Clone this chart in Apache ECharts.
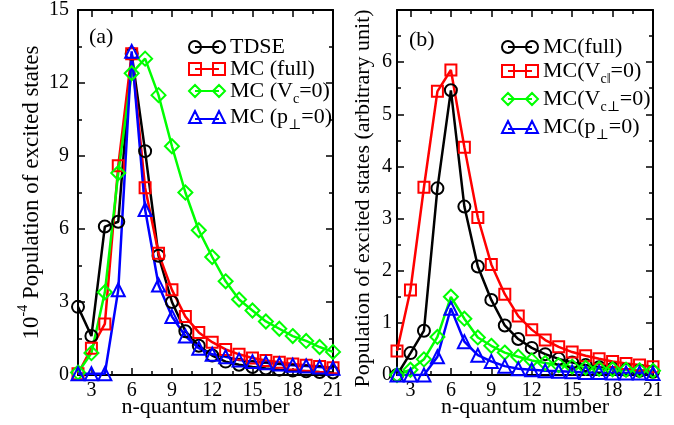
<!DOCTYPE html>
<html>
<head>
<meta charset="utf-8">
<script src="https://cdn.jsdelivr.net/npm/echarts@6/dist/echarts.min.js"></script>
<style>
    html, body { margin: 0; padding: 0; background: #fff; }
    #main { width: 674px; height: 425px; }
</style>
</head>
<body>
<div id="main"></div>
<script>
// n 量子数
var nQuantum = [2, 3, 4, 5, 6, 7, 8, 9, 10, 11, 12, 13, 14, 15, 16, 17, 18, 19, 20, 21];

// (a) 10^-4 population
var aTdse   = [2.8, 1.6, 6.1, 6.3, 13.2, 9.2, 4.9, 3.0, 1.8, 1.2, 0.8, 0.55, 0.42, 0.33, 0.27, 0.22, 0.18, 0.15, 0.12, 0.1];
var aMcFull = [0.05, 1.1, 2.1, 8.6, 13.2, 7.7, 5.0, 3.5, 2.4, 1.75, 1.35, 1.05, 0.85, 0.7, 0.6, 0.52, 0.45, 0.4, 0.35, 0.3];
var aMcVc0  = [0.1, 0.9, 3.4, 8.3, 12.4, 13.0, 11.5, 9.4, 7.5, 5.95, 4.85, 3.85, 3.1, 2.65, 2.2, 1.9, 1.6, 1.4, 1.15, 0.95];
var aMcP0   = [0.05, 0.05, 0.05, 3.5, 13.3, 6.8, 3.7, 2.4, 1.6, 1.1, 0.85, 0.75, 0.62, 0.55, 0.5, 0.45, 0.4, 0.37, 0.33, 0.28];

// (b) arbitrary unit
var bMcFull   = [0.0, 0.42, 0.85, 3.58, 5.46, 3.23, 2.08, 1.44, 0.95, 0.69, 0.52, 0.4, 0.31, 0.24, 0.19, 0.15, 0.12, 0.1, 0.08, 0.06];
var bMcVcPar  = [0.46, 1.63, 3.6, 5.44, 5.85, 4.37, 3.02, 2.12, 1.55, 1.13, 0.87, 0.67, 0.54, 0.44, 0.37, 0.31, 0.26, 0.22, 0.19, 0.16];
var bMcVcPerp = [0.0, 0.1, 0.3, 0.73, 1.5, 1.08, 0.72, 0.56, 0.43, 0.35, 0.28, 0.23, 0.19, 0.16, 0.14, 0.12, 0.11, 0.1, 0.09, 0.08];
var bMcP0     = [0.0, 0.0, 0.0, 0.35, 1.28, 0.64, 0.38, 0.26, 0.17, 0.12, 0.1, 0.08, 0.07, 0.06, 0.05, 0.05, 0.04, 0.04, 0.04, 0.03];

// 刻度
var xTicks = [3, 6, 9, 12, 15, 18, 21];
var xMinorTicks = [4.5, 7.5, 10.5, 13.5, 16.5, 19.5];
var bYLabels = [0, 1, 2, 3, 4, 5, 6];

var FONT = "'Liberation Serif', 'DejaVu Serif', serif";
var GREEN = '#00ff00';

// 图例图标：两个空心符号加中间连线
var ICONS = {
    circle: 'path://M0,6A6,6 0 1,1 12,6A6,6 0 1,1 0,6ZM6,6L30,6M24,6A6,6 0 1,1 36,6A6,6 0 1,1 24,6Z',
    rect: 'path://M0,0L12,0L12,12L0,12ZM6,6L30,6M24,0L36,0L36,12L24,12Z',
    diamond: 'path://M0,6L6,0L12,6L6,12ZM6,6L30,6M24,6L30,0L36,6L30,12Z',
    triangle: 'path://M0,12L6,0L12,12ZM6,8L30,8M24,12L30,0L36,12Z'
};

var legendText = {
    'TDSE': '{a|TDSE}',
    'MC (full)': '{a|MC (full)}',
    'MC (Vc=0)': '{a|MC (V}{s|c}{a|=0)}',
    'MC (p⊥=0)': '{a|MC (p}{s|⊥}{a|=0)}',
    'MC(full)': '{a|MC(full)}',
    'MC(Vc‖=0)': '{a|MC(V}{s|c‖}{a|=0)}',
    'MC(Vc⊥=0)': '{a|MC(V}{s|c⊥}{a|=0)}',
    'MC(p⊥=0)': '{a|MC(p}{s|⊥}{a|=0)}'
};

function pairs(arr) {
    return nQuantum.map(function (n, i) { return [n, arr[i]]; });
}

function makeSeries(name, arr, color, symbol, size, gridIdx) {
    return {
        name: name,
        type: 'line',
        xAxisIndex: gridIdx * 4,
        yAxisIndex: gridIdx * 2,
        data: pairs(arr),
        symbol: symbol,
        symbolSize: size,
        showAllSymbol: true,
        lineStyle: { color: color, width: 2.5 },
        itemStyle: { color: 'rgba(0,0,0,0)', borderColor: color, borderWidth: 2 },
        emphasis: { disabled: true },
        animation: false
    };
}

function legendItem(name, color, symbol) {
    return {
        name: name,
        icon: ICONS[symbol],
        itemStyle: { color: 'rgba(0,0,0,0)', borderColor: color, borderWidth: 2 }
    };
}

var richText = {
    a: { fontFamily: FONT, fontSize: 22, color: '#000', lineHeight: 22, verticalAlign: 'top' },
    s: { fontFamily: FONT, fontSize: 14, color: '#000', lineHeight: 14, padding: [12, 0, 0, 0], verticalAlign: 'top' }
};

// x 轴：底部主刻度、底部次刻度、顶部主刻度、顶部次刻度
function xAxes(gridIdx) {
    var base = {
        type: 'value', gridIndex: gridIdx, min: 2, max: 21,
        splitLine: { show: false }
    };
    return [
        Object.assign({}, base, {
            position: 'bottom',
            name: 'n-quantum number',
            nameLocation: 'middle',
            nameGap: 21,
            nameMoveOverlap: false,
            nameTextStyle: { fontFamily: FONT, fontSize: 22, color: '#000' },
            axisLine: { show: true, onZero: false, lineStyle: { color: '#000', width: 2 } },
            axisTick: { show: true, inside: true, length: 7, customValues: xTicks, lineStyle: { color: '#000', width: 1.5 } },
            axisLabel: { show: true, margin: 6, customValues: xTicks, fontFamily: FONT, fontSize: 20, color: '#000' }
        }),
        Object.assign({}, base, {
            position: 'bottom',
            axisLine: { show: false, onZero: false },
            axisTick: { show: true, inside: true, length: 4, customValues: xMinorTicks, lineStyle: { color: '#000', width: 1.5 } },
            axisLabel: { show: false }
        }),
        Object.assign({}, base, {
            position: 'top',
            axisLine: { show: true, onZero: false, lineStyle: { color: '#000', width: 2 } },
            axisTick: { show: true, inside: true, length: 7, customValues: xTicks, lineStyle: { color: '#000', width: 1.5 } },
            axisLabel: { show: false }
        }),
        Object.assign({}, base, {
            position: 'top',
            axisLine: { show: false, onZero: false },
            axisTick: { show: true, inside: true, length: 4, customValues: xMinorTicks, lineStyle: { color: '#000', width: 1.5 } },
            axisLabel: { show: false }
        })
    ];
}

function yAxes(gridIdx, max, interval, name, nameGap, labelMargin, labelValues, nameRich) {
    var tick = { show: true, inside: true, length: 7, lineStyle: { color: '#000', width: 1.5 } };
    var minor = { show: true, splitNumber: 2, length: 4, lineStyle: { color: '#000', width: 1.5 } };
    var label = { show: true, margin: labelMargin, fontFamily: FONT, fontSize: 20, color: '#000' };
    if (labelValues) label.customValues = labelValues;
    return [
        {
            type: 'value', gridIndex: gridIdx, position: 'left', min: 0, max: max, interval: interval,
            name: name, nameLocation: 'middle', nameGap: nameGap, nameMoveOverlap: false,
            nameTextStyle: { fontFamily: FONT, fontSize: 23, color: '#000', rich: nameRich },
            axisLine: { show: true, onZero: false, lineStyle: { color: '#000', width: 2 } },
            axisTick: tick, minorTick: minor, axisLabel: label,
            splitLine: { show: false }
        },
        {
            type: 'value', gridIndex: gridIdx, position: 'right', min: 0, max: max, interval: interval,
            axisLine: { show: true, onZero: false, lineStyle: { color: '#000', width: 2 } },
            axisTick: tick, minorTick: minor, axisLabel: { show: false },
            splitLine: { show: false }
        }
    ];
}

var leftNameRich = {
    b: { fontFamily: FONT, fontSize: 23, color: '#000', lineHeight: 24, padding: [4, 0, 0, 0], verticalAlign: 'top' },
    p: { fontFamily: FONT, fontSize: 14, color: '#000', lineHeight: 14, verticalAlign: 'top' }
};
var rightNameRich = {
    b: { fontFamily: FONT, fontSize: 22, color: '#000', lineHeight: 24, padding: [4, 12, 0, 0], verticalAlign: 'top' }
};

var myChart = echarts.init(document.getElementById('main'), null, { renderer: 'canvas' });

var option = {
    backgroundColor: '#fff',
    animation: false,
    grid: [
        { left: 78, top: 10, width: 255, height: 365, containLabel: false, outerBoundsMode: 'none' },
        { left: 397, top: 10, width: 256, height: 365, containLabel: false, outerBoundsMode: 'none' }
    ],
    xAxis: xAxes(0).concat(xAxes(1)),
    yAxis: yAxes(0, 15, 3, '{b|10}{p|-4}{b| Population of excited states}', 38, 9, null, leftNameRich)
        .concat(yAxes(1, 7, 1, '{b|Population of excited states (arbitrary unit)}', 25, 5, bYLabels, rightNameRich)),
    legend: [
        {
            orient: 'vertical', left: 183, top: 31, itemWidth: 36, itemHeight: 12, itemGap: 0,
            selectedMode: false,
            formatter: function (name) { return legendText[name]; },
            textStyle: { rich: richText },
            data: [
                legendItem('TDSE', '#000', 'circle'),
                legendItem('MC (full)', '#ff0000', 'rect'),
                legendItem('MC (Vc=0)', GREEN, 'diamond'),
                legendItem('MC (p⊥=0)', '#0000ff', 'triangle')
            ]
        },
        {
            orient: 'vertical', left: 496, top: 31, itemWidth: 36, itemHeight: 12, itemGap: 2,
            selectedMode: false,
            formatter: function (name) { return legendText[name]; },
            textStyle: { rich: richText },
            data: [
                legendItem('MC(full)', '#000', 'circle'),
                legendItem('MC(Vc‖=0)', '#ff0000', 'rect'),
                legendItem('MC(Vc⊥=0)', GREEN, 'diamond'),
                legendItem('MC(p⊥=0)', '#0000ff', 'triangle')
            ]
        }
    ],
    graphic: [
        { type: 'text', left: 89, top: 26, style: { text: '(a)', fontFamily: FONT, fontSize: 22, fill: '#000' } },
        { type: 'text', left: 409, top: 29, style: { text: '(b)', fontFamily: FONT, fontSize: 22, fill: '#000' } }
    ],
    series: [
        makeSeries('TDSE', aTdse, '#000', 'circle', 12, 0),
        makeSeries('MC (full)', aMcFull, '#ff0000', 'rect', 11, 0),
        makeSeries('MC (Vc=0)', aMcVc0, GREEN, 'diamond', 14, 0),
        makeSeries('MC (p⊥=0)', aMcP0, '#0000ff', 'triangle', 13, 0),
        makeSeries('MC(full)', bMcFull, '#000', 'circle', 12, 1),
        makeSeries('MC(Vc‖=0)', bMcVcPar, '#ff0000', 'rect', 11, 1),
        makeSeries('MC(Vc⊥=0)', bMcVcPerp, GREEN, 'diamond', 14, 1),
        makeSeries('MC(p⊥=0)', bMcP0, '#0000ff', 'triangle', 13, 1)
    ]
};
myChart.setOption(option);
</script>
</body>
</html>
